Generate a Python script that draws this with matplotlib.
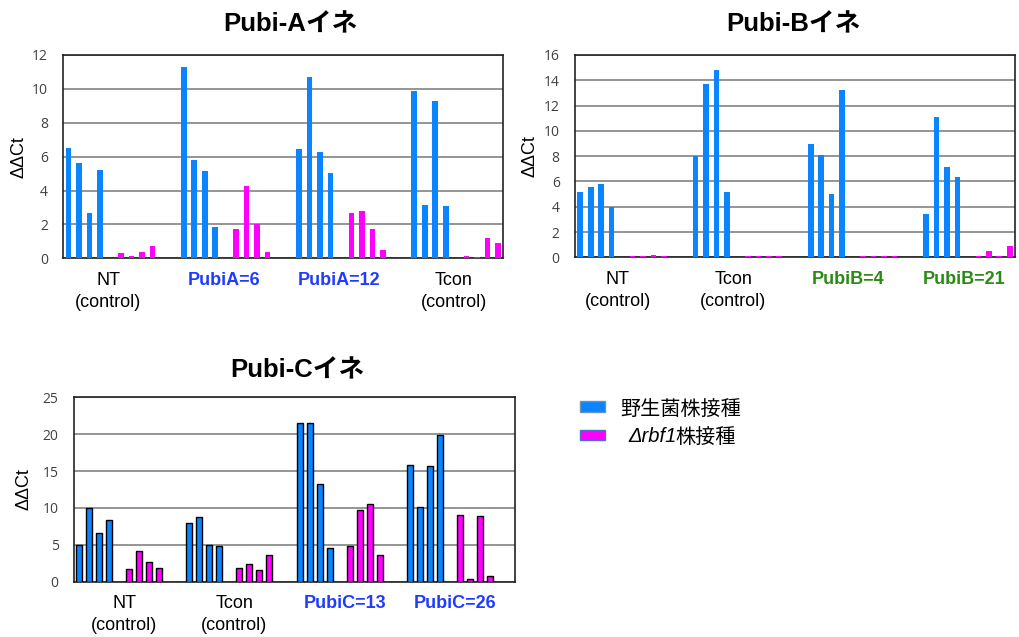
import numpy as np
import matplotlib
matplotlib.use('Agg')
import matplotlib.pyplot as plt
from matplotlib.patches import Rectangle

plt.rcParams['font.family'] = ['Liberation Sans', 'Noto Sans CJK JP']

# ---- data ----
# wild type (blue) and delta-rbf1 (magenta), 4 plants per group
a_wt  = [[6.5, 5.6, 2.65, 5.2], [11.3, 5.8, 5.18, 1.87], [6.48, 10.7, 6.26, 5.02], [9.9, 3.15, 9.31, 3.07]]
a_rbf = [[0.31, 0.12, 0.37, 0.71], [1.71, 4.27, 2.03, 0.37], [2.66, 2.8, 1.75, 0.49], [0.14, 0.08, 1.18, 0.89]]
a_groups = ['NT\n(control)', 'PubiA=6', 'PubiA=12', 'Tcon\n(control)']

b_wt  = [[5.19, 5.53, 5.77, 3.98], [8.04, 13.68, 14.81, 5.14], [8.99, 8.07, 5.01, 13.2], [3.43, 11.1, 7.14, 6.35]]
b_rbf = [[0.08, 0.12, 0.17, 0.08], [0.12, 0.08, 0.08, 0.08], [0.08, 0.08, 0.08, 0.08], [0.08, 0.53, 0.08, 0.92]]
b_groups = ['NT\n(control)', 'Tcon\n(control)', 'PubiB=4', 'PubiB=21']

c_wt  = [[4.97, 9.95, 6.65, 8.32], [8.0, 8.82, 5.02, 4.84], [21.47, 21.56, 13.2, 4.61], [15.78, 10.13, 15.69, 19.94]]
c_rbf = [[1.72, 4.16, 2.62, 1.9], [1.9, 2.44, 1.54, 3.57], [4.84, 9.67, 10.49, 3.66], [9.09, 0.32, 8.9, 0.81]]
c_groups = ['NT\n(control)', 'Tcon\n(control)', 'PubiC=13', 'PubiC=26']

legend_labels = ['野生菌株接種', 'Δrbf1', '株接種']

BLUE = '#0a84ff'
MAGENTA = '#ff00ff'
NAME_BLUE = '#1f3cff'
NAME_GREEN = '#2a8a14'

W, H = 1020, 637
fig = plt.figure(figsize=(10.2, 6.37), dpi=100)


def draw_panel(rect, wt, rbf, groups, ymax, ystep, name_color, n_slots, outlined, lab_off):
    ax = fig.add_axes(rect)
    bw = 0.6 if outlined else 0.54
    ec = 'black' if outlined else 'none'
    for g in range(4):
        x0 = g * 11
        ax.bar(x0 + np.arange(4), wt[g], bw, color=BLUE, edgecolor=ec, linewidth=1.0, zorder=3)
        ax.bar(x0 + 5 + np.arange(4), rbf[g], bw, color=MAGENTA, edgecolor=ec, linewidth=1.0, zorder=3)
    ax.set_xlim(-0.5, n_slots - 0.5)
    ax.set_ylim(0, ymax)
    ax.set_yticks(np.arange(0, ymax + 0.1, ystep))
    ax.set_xticks([])
    ax.yaxis.grid(True, color='#8c8c8c', linewidth=1.3)
    ax.set_axisbelow(True)
    for s in ax.spines.values():
        s.set_color('#222222')
        s.set_linewidth(1.2)
    ax.tick_params(axis='y', length=0, pad=11, labelsize=10, labelcolor='#404040',
                   labelfontfamily='Open Sans')
    ax.set_ylabel('ΔΔCt', fontsize=13)
    # group labels under the axis
    for g, lab in enumerate(groups):
        xg = g * 11 + lab_off
        if '\n' in lab:
            l1, l2 = lab.split('\n')
            ax.annotate(l1, (xg, 0), xycoords=('data', 'axes fraction'), xytext=(0, -16),
                        textcoords='offset points', ha='center', va='center', fontsize=13)
            ax.annotate(l2, (xg, 0), xycoords=('data', 'axes fraction'), xytext=(0, -31.5),
                        textcoords='offset points', ha='center', va='center', fontsize=13)
        else:
            ax.annotate(lab, (xg, 0), xycoords=('data', 'axes fraction'), xytext=(0, -16),
                        textcoords='offset points', ha='center', va='center', fontsize=13,
                        fontweight='bold', color=name_color)
    return ax


ax_a = draw_panel([63.3 / W, 1 - 258.3 / H, 440 / W, 203.3 / H], a_wt, a_rbf, a_groups,
                  12, 2, NAME_BLUE, 42, False, 3.8)
ax_b = draw_panel([575 / W, 1 - 257.3 / H, 440 / W, 202.3 / H], b_wt, b_rbf, b_groups,
                  16, 2, NAME_GREEN, 42, False, 3.6)
ax_c = draw_panel([74 / W, 1 - 581.7 / H, 441 / W, 184.4 / H], c_wt, c_rbf, c_groups,
                  25, 5, NAME_BLUE, 44, True, 4.5)

ax_a.yaxis.set_label_coords(-0.082, 0.5)
ax_b.yaxis.set_label_coords(-0.084, 0.5)
ax_c.yaxis.set_label_coords(-0.094, 0.5)

# titles
fig.text(290 / W, 1 - 24 / H, 'Pubi-Aイネ', ha='center', va='center', fontsize=18.5, fontweight='bold')
fig.text(793 / W, 1 - 24 / H, 'Pubi-Bイネ', ha='center', va='center', fontsize=18.5, fontweight='bold')
fig.text(297 / W, 1 - 370 / H, 'Pubi-Cイネ', ha='center', va='center', fontsize=18.5, fontweight='bold')

# legend drawn by hand (mixed italic label)
fig.add_artist(Rectangle((580 / W, 1 - 411.5 / H), 25 / W, 10.5 / H, transform=fig.transFigure,
                         facecolor=BLUE, edgecolor='#6f8fb8', linewidth=1.0))
fig.add_artist(Rectangle((580 / W, 1 - 440 / H), 25 / W, 10.5 / H, transform=fig.transFigure,
                         facecolor=MAGENTA, edgecolor='#4a6fd0', linewidth=1.0))
fig.text(620 / W, 1 - 409 / H, legend_labels[0], ha='left', va='center', fontsize=14.5)
t_it = fig.text(628 / W, 1 - 437 / H, legend_labels[1], ha='left', va='center', fontsize=14.5,
                style='italic')
renderer = fig.canvas.get_renderer()
bb = t_it.get_window_extent(renderer)
fig.text(bb.x1 / W - 1.5 / W, 1 - 437 / H, legend_labels[2], ha='left', va='center', fontsize=14.5)

fig.savefig('out.png', dpi=100)
